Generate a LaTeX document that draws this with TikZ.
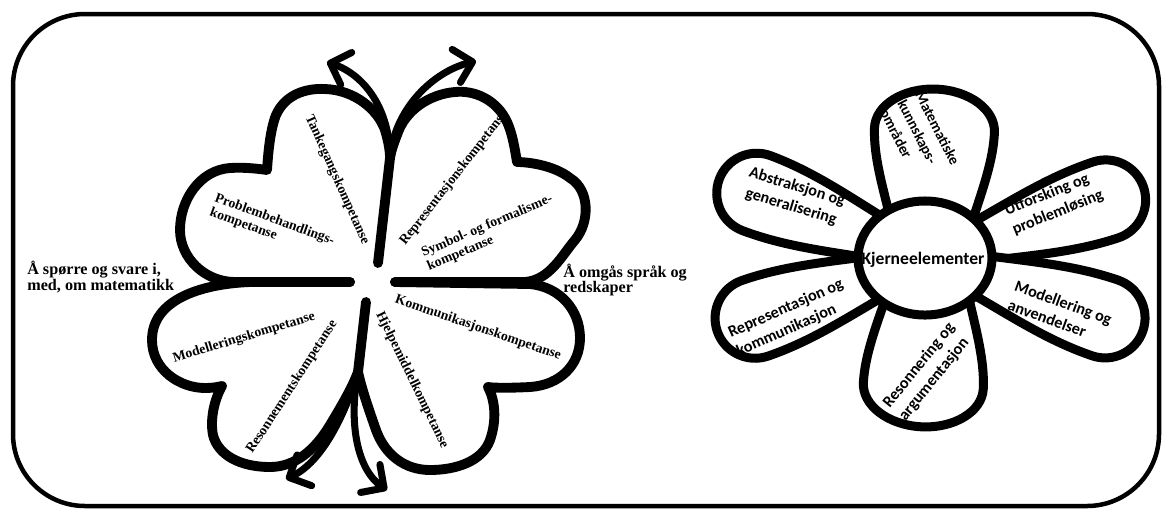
\documentclass[tikz,border=0pt]{standalone}
\usepackage{fontspec}
\setmainfont{Liberation Serif}
\newfontfamily\petalfont{Carlito}
\usetikzlibrary{arrows.meta}

\newcommand{\sidepetal}{(50,-20) .. controls (100,-30) and (140,-40) .. (185,-40) arc[start angle=-90, end angle=90, radius=1cm] .. controls (140,40) and (100,30) .. (50,20) -- cycle}
\newcommand{\wideptl}{(35,-40) .. controls (70,-50) and (100,-60) .. (128,-60) arc[start angle=-90, end angle=90, x radius=1.025cm, y radius=1.5cm] .. controls (100,60) and (70,50) .. (35,40) -- cycle}

\begin{document}
\begin{tikzpicture}[x=0.025cm, y=0.025cm,
    leaf/.style={line width=7pt, line cap=round, line join=round},
    clover arrow/.style={line width=5pt, line cap=round, -{Straight Barb[length=0.42cm, width=0.85cm, round]}},
    petal/.style={line width=6.4pt, fill=white, line join=round},
    clabel/.style={font=\fontsize{9.8}{10.5}\selectfont\bfseries, inner sep=0pt},
    sidelabel/.style={font=\fontsize{11.5}{11}\selectfont\bfseries, inner sep=0pt, anchor=west, align=left},
    plabel/.style={font=\petalfont\fontsize{11.5}{14.5}\selectfont\bfseries, inner sep=0pt}]
    \useasboundingbox (0,0) rectangle (1162,-509);

    % frame
    \draw[line width=3.2pt, rounded corners=1.8cm] (13,-14) rectangle (1159,-506);

    % clover leaves
    \coordinate (topjoin) at (390,-158);
    \coordinate (botjoin) at (358,-372);
    % top left
    \draw[leaf] (350,-282) -- (235,-282) .. controls (205,-282) and (180,-258) .. (180,-230)
        .. controls (180,-200) and (200,-170) .. (230,-168) .. controls (245,-167) and (260,-169) .. (267,-170)
        .. controls (268,-155) and (270,-130) .. (276,-115) .. controls (285,-95) and (305,-88) .. (325,-89)
        .. controls (355,-90) and (378,-110) .. (385,-130) .. controls (388,-140) and (390,-150) .. (topjoin) -- (378,-263);
    % top right
    \draw[leaf] (395,-282) -- (525,-282) .. controls (550,-280) and (562,-255) .. (575,-240)
        .. controls (590,-222) and (590,-190) .. (570,-178) .. controls (555,-166) and (530,-162) .. (517,-162)
        .. controls (515,-150) and (512,-130) .. (505,-118) .. controls (495,-100) and (475,-90) .. (455,-92)
        .. controls (430,-94) and (405,-110) .. (397,-135) .. controls (393,-145) and (391,-152) .. (topjoin);
    % bottom left
    \draw[leaf] (350,-282) -- (250,-282) .. controls (200,-284) and (152,-300) .. (152,-340)
        .. controls (152,-370) and (180,-388) .. (205,-388) .. controls (212,-388) and (218,-387) .. (222,-386)
        .. controls (214,-400) and (210,-420) .. (213,-435) .. controls (218,-455) and (240,-467) .. (270,-467)
        .. controls (295,-467) and (315,-450) .. (330,-425) .. controls (342,-405) and (352,-388) .. (botjoin) -- (366,-302);
    % bottom right
    \draw[leaf] (395,-282) -- (530,-284) .. controls (560,-287) and (580,-310) .. (580,-338)
        .. controls (580,-365) and (560,-385) .. (530,-387) .. controls (510,-388) and (495,-388) .. (488,-387)
        .. controls (495,-400) and (497,-420) .. (490,-440) .. controls (482,-462) and (455,-470) .. (430,-470)
        .. controls (405,-470) and (385,-455) .. (376,-430) .. controls (369,-410) and (362,-390) .. (botjoin);

    % arrows out of the stem
    \coordinate (tlend) at (327,-62);
    \coordinate (trend) at (476,-61);
    \coordinate (blend) at (286,-479);
    \coordinate (brend) at (387,-490);
    \draw[clover arrow] (topjoin) .. controls (390,-110) and (365,-75) .. (tlend);
    \draw[clover arrow] (topjoin) .. controls (394,-110) and (432,-72) .. (trend);
    \draw[clover arrow] (botjoin) .. controls (345,-415) and (322,-462) .. (blend);
    \draw[clover arrow] (botjoin) .. controls (348,-425) and (358,-470) .. (brend);

    % competences
    \node[clabel, rotate=-66] (tanke) at (337,-180) {Tankegangskompetanse};
    \node[clabel, rotate=-20, align=left] (problem) at (272,-227) {Problembehandlings-\\kompetanse};
    \node[clabel, rotate=52] (repr) at (454,-178) {Representasjonskompetanse};
    \node[clabel, rotate=23, align=left] (symbol) at (490,-233) {Symbol- og formalisme-\\kompetanse};
    \node[clabel, rotate=-19] (komm) at (478,-328) {Kommunikasjonskompetanse};
    \node[clabel, rotate=-64] (hjelp) at (412,-380) {Hjelpemiddelkompetanse};
    \node[clabel, rotate=17] (modell) at (244,-338) {Modelleringskompetanse};
    \node[clabel, rotate=57] (reson) at (292,-387) {Resonnementskompetanse};

    \node[sidelabel] (spoerre) at (27,-277) {Å spørre og svare i,\\med, om matematikk};
    \node[sidelabel] (omgaas) at (563,-280) {Å omgås språk og\\redskaper};

    % flower
    \draw[petal, shift={(930,-258)}, rotate=159.5] \sidepetal;
    \draw[petal, shift={(930,-258)}, rotate=199] \sidepetal;
    \draw[petal, shift={(930,-258)}, rotate=18.3] \sidepetal;
    \draw[petal, shift={(930,-258)}, rotate=-18.9] \sidepetal;
    \draw[petal, shift={(930,-258)}, rotate=88] \wideptl;
    \draw[petal, shift={(930,-258)}, rotate=-93] \wideptl;
    \draw[petal] (925,-258) ellipse[x radius=1.675cm, y radius=1.425cm];

    \node[plabel, font=\petalfont\fontsize{12.5}{15}\selectfont\bfseries] (kjerne) at (923,-260) {Kjerneelementer};
    \node[plabel, rotate=-17, align=center] (abstr) at (794,-197) {Abstraksjon og\\generalisering};
    \node[plabel, rotate=-63, align=left, font=\petalfont\fontsize{10.5}{14}\selectfont\bfseries] (matte) at (920,-137) {Matematiske\\kunnskaps-\\områder};
    \node[plabel, rotate=22, align=left] (utfor) at (1054,-203) {Utforsking og\\problemløsing};
    \node[plabel, rotate=-20, align=left] (modl) at (1060,-312) {Modellering og\\anvendelser};
    \node[plabel, rotate=51, align=left] (reso) at (927,-372) {Resonnering og\\argumentasjon};
    \node[plabel, rotate=24, align=left] (repko) at (790,-318) {Representasjon og\\kommunikasjon};
\end{tikzpicture}
\end{document}
